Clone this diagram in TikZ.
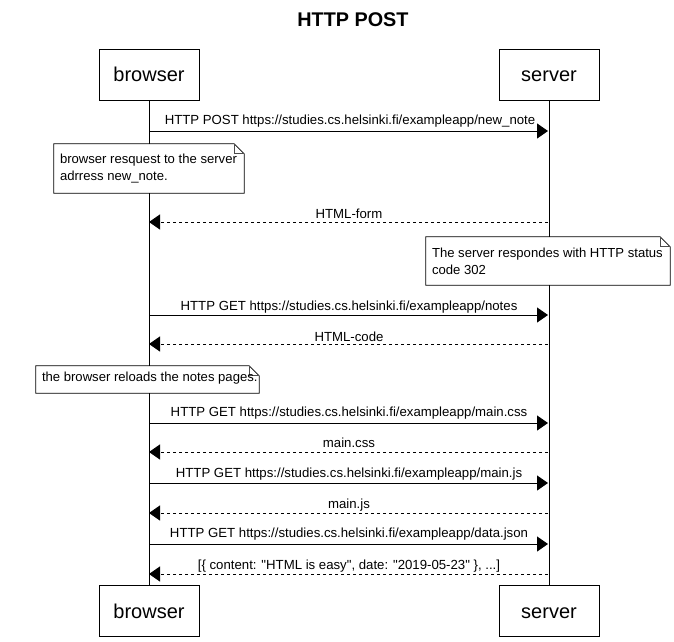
\documentclass[tikz,border=0pt]{standalone}
\usepackage{fontspec}
\setmainfont{Liberation Sans}
\usetikzlibrary{arrows.meta}
\begin{document}
\begin{tikzpicture}[x=1pt,y=-1pt,
  actor/.style={draw=black,line width=1pt,fill=white,minimum width=100pt,minimum height=51pt,inner sep=0pt,text height=14.5pt,text depth=0pt,font=\fontsize{20}{24}\selectfont},
  lifeline/.style={draw=black,line width=1pt},
  msg/.style={draw=black,line width=1pt,-{Triangle[length=11pt,width=15pt]}},
  reply/.style={msg,dash pattern=on 3pt off 3pt},
  msglabel/.style={font=\fontsize{13.2}{15}\selectfont,inner sep=0pt},
  notebox/.style={fill=white,draw=none,inner sep=0pt},
  noteline/.style={draw=black,line width=0.8pt},
  foldline/.style={draw=black!70,line width=0.8pt},
  notetext/.style={font=\fontsize{13.1}{17}\selectfont,align=left,inner sep=0pt}
]
\useasboundingbox (0,0) rectangle (674,641);
\fill[white] (0,0) rectangle (674,641);

\node[font=\bfseries\fontsize{19.8}{22}\selectfont] (title) at (353,20) {HTTP POST};

\node[actor] (bt) at (149,74.5) {browser};
\node[actor] (st) at (549,74.5) {server};
\node[actor] (bb) at (149,611) {browser};
\node[actor] (sb) at (549,611) {server};

\draw[lifeline] (bt) -- (bb);
\draw[lifeline] (st) -- (sb);

% message endpoints
\coordinate (b1) at (149,131); \coordinate (s1) at (548,131);
\coordinate (b2) at (149,222); \coordinate (s2) at (548,222);
\coordinate (b3) at (149,315); \coordinate (s3) at (548,315);
\coordinate (b4) at (149,344); \coordinate (s4) at (548,344);
\coordinate (b5) at (149,423); \coordinate (s5) at (548,423);
\coordinate (b6) at (149,452); \coordinate (s6) at (548,452);
\coordinate (b7) at (149,483); \coordinate (s7) at (548,483);
\coordinate (b8) at (149,513); \coordinate (s8) at (548,513);
\coordinate (b9) at (149,544); \coordinate (s9) at (548,544);
\coordinate (b10) at (149,574); \coordinate (s10) at (548,574);

\draw[msg] (b1) -- (s1);
\node[msglabel] (m1) at (350,121) {HTTP POST https://studies.cs.helsinki.fi/exampleapp/new\_note};
\draw[reply] (s2) -- (b2);
\node[msglabel] (m2) at (349,214) {HTML-form};
\draw[msg] (b3) -- (s3);
\node[msglabel] (m3) at (349,307) {HTTP GET https://studies.cs.helsinki.fi/exampleapp/notes};
\draw[reply] (s4) -- (b4);
\node[msglabel] (m4) at (349,337) {HTML-code};
\draw[msg] (b5) -- (s5);
\node[msglabel] (m5) at (349,413) {HTTP GET https://studies.cs.helsinki.fi/exampleapp/main.css};
\draw[reply] (s6) -- (b6);
\node[msglabel] (m6) at (349,443) {main.css};
\draw[msg] (b7) -- (s7);
\node[msglabel] (m7) at (349,474) {HTTP GET https://studies.cs.helsinki.fi/exampleapp/main.js};
\draw[reply] (s8) -- (b8);
\node[msglabel] (m8) at (349,505) {main.js};
\draw[msg] (b9) -- (s9);
\node[msglabel] (m9) at (349,534) {HTTP GET https://studies.cs.helsinki.fi/exampleapp/data.json};
\draw[reply] (s10) -- (b10);
\node[msglabel] (m10) at (349,566) {[\{ content: \textquotedbl HTML is easy\textquotedbl, date: \textquotedbl 2019-05-23\textquotedbl\ \}, ...]};

% notes
\foreach \n/\cx/\cy/\w/\h in {n1/149/168.5/190/49, n2/548/261/244/48, n3/147.5/379.5/223/27}{
  \node[notebox,minimum width=\w pt,minimum height=\h pt] (\n) at (\cx,\cy) {};
  \draw[noteline] (\n.north west) -- ([xshift=-10pt]\n.north east) -- ([yshift=-10pt]\n.north east) -- (\n.south east) -- (\n.south west) -- cycle;
  \draw[foldline] ([xshift=-10pt]\n.north east) -- ([xshift=-10pt,yshift=-10pt]\n.north east) -- ([yshift=-10pt]\n.north east);
}
\node[notetext,anchor=west] (t1) at ([xshift=6pt]n1.west) {browser resquest to the server\\adrress new\_note.};
\node[notetext,anchor=west] (t2) at ([xshift=6pt]n2.west) {The server respondes with HTTP status\\code 302};
\node[notetext,anchor=west] (t3) at ([xshift=6pt,yshift=1.5pt]n3.west) {the browser reloads the notes pages.};
\end{tikzpicture}
\end{document}
